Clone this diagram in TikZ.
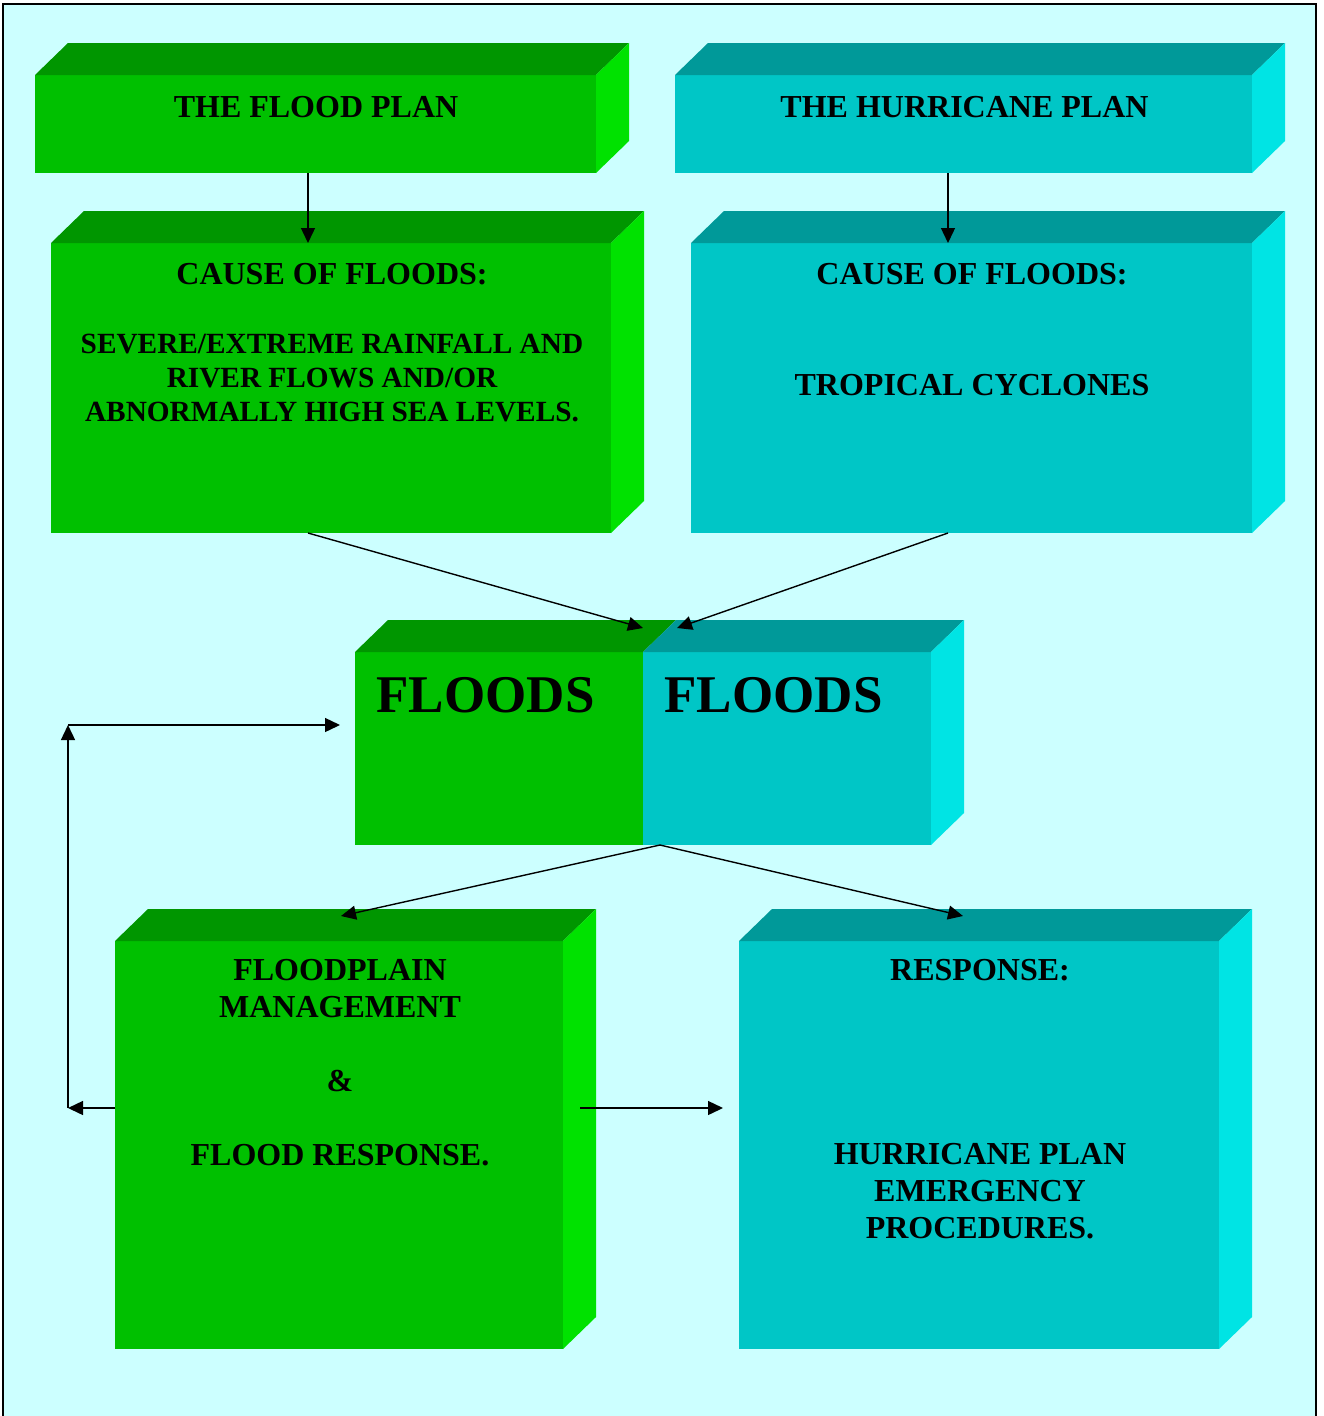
\documentclass[tikz,border=0pt]{standalone}
\usepackage{fontspec}
\setmainfont{Liberation Serif}
\usetikzlibrary{arrows.meta,
                positioning
            }

\definecolor{bgcyan}{RGB}{204,255,255}
\definecolor{greenFront}{RGB}{0,192,0}
\definecolor{greenTop}{RGB}{0,150,0}
\definecolor{greenSide}{RGB}{0,226,0}
\definecolor{cyanFront}{RGB}{0,198,198}
\definecolor{cyanTop}{RGB}{0,153,153}
\definecolor{cyanSide}{RGB}{0,228,228}

% top and side faces of a box, drawn from its front node
\newcommand{\topface}[2]{\fill[#2] (#1.north west) -- ++(33,-32) -- ([shift={(33,-32)}]#1.north east) -- (#1.north east) -- cycle;}
\newcommand{\sideface}[2]{\fill[#2] (#1.north east) -- ++(33,-32) -- ([shift={(33,-32)}]#1.south east) -- (#1.south east) -- cycle;}

\tikzset{
    front/.style={inner sep=0pt, outer sep=0pt},
    txt/.style={anchor=north, inner sep=0pt, align=center, font=\fontsize{32}{37}\selectfont\bfseries},
    arr/.style={-{Triangle[length=15pt,width=14pt]}, line width=1.4pt}
}

\begin{document}
\begin{tikzpicture}[x=1pt, y=-1pt]
            \useasboundingbox (0,0) rectangle (1324,1416);
            \fill[bgcyan] (3,4) rectangle (1316,1416);
            \draw[line width=2pt] (3,1416) -- (3,4) -- (1316,4) -- (1316,1416);

            % front faces
            \node[front, fill=greenFront, minimum width=561, minimum height=98] (planFlood) at (315.5,124) {};
            \node[front, fill=cyanFront, minimum width=577, minimum height=98] (planHurr) at (963.5,124) {};
            \node[front, fill=greenFront, minimum width=560, minimum height=290] (causeFlood) at (331,388) {};
            \node[front, fill=cyanFront, minimum width=561, minimum height=290] (causeHurr) at (971.5,388) {};
            \node[front, fill=greenFront, minimum width=288, minimum height=193] (floodsL) at (499,748.5) {};
            \node[front, fill=cyanFront, minimum width=288, minimum height=193] (floodsR) at (787,748.5) {};
            \node[front, fill=greenFront, minimum width=448, minimum height=408] (mgmt) at (339,1145) {};
            \node[front, fill=cyanFront, minimum width=480, minimum height=408] (response) at (979,1145) {};

            \topface{planFlood}{greenTop}   \sideface{planFlood}{greenSide}
            \topface{planHurr}{cyanTop}     \sideface{planHurr}{cyanSide}
            \topface{causeFlood}{greenTop}  \sideface{causeFlood}{greenSide}
            \topface{causeHurr}{cyanTop}    \sideface{causeHurr}{cyanSide}
            \topface{floodsL}{greenTop}
            \topface{floodsR}{cyanTop}      \sideface{floodsR}{cyanSide}
            \topface{mgmt}{greenTop}        \sideface{mgmt}{greenSide}
            \topface{response}{cyanTop}     \sideface{response}{cyanSide}

            % texts
            \node[txt] (tPlanFlood) at (316,96.5) {THE FLOOD PLAN};
            \node[txt] (tPlanHurr) at (964.5,96.5) {THE HURRICANE PLAN};
            \node[txt] (tCauseFlood) at (332,263.5) {CAUSE OF FLOODS:};
            \node[txt, font=\fontsize{29.3}{34}\selectfont\bfseries] (tRain) at (332,333.5)
                {SEVERE/EXTREME RAINFALL AND\\RIVER FLOWS AND/OR\\ABNORMALLY HIGH SEA LEVELS.};
            \node[txt] (tCauseHurr) at (972,263.5) {CAUSE OF FLOODS:};
            \node[txt] (tCyclones) at (972,374.5) {TROPICAL CYCLONES};
            \node[txt, font=\fontsize{53}{60}\selectfont\bfseries] (tFloodsL) at (485.5,677) {FLOODS};
            \node[txt, font=\fontsize{53}{60}\selectfont\bfseries] (tFloodsR) at (773.5,677) {FLOODS};
            \node[txt] (tMgmt) at (340,959.5) {FLOODPLAIN\\MANAGEMENT\\[37pt]\&\\[37pt]FLOOD RESPONSE.};
            \node[txt] (tResponse) at (980,959.5) {RESPONSE:};
            \node[txt] (tProcedures) at (980,1143.5) {HURRICANE PLAN\\EMERGENCY\\PROCEDURES.};

            % connectors
            \coordinate (hitL) at (643,628);
            \coordinate (hitR) at (677,628);
            \coordinate (hitMgmt) at (341,916);
            \coordinate (hitResp) at (963,916);
            \coordinate (loopB) at (68,1108);
            \coordinate (loopT) at (68,725);

            \draw[arr] ([xshift=-7.5]planFlood.south) -- ([xshift=-7.5]planFlood.south |- causeFlood.north);
            \draw[arr] ([xshift=-15.5]planHurr.south) -- ([xshift=-15.5]planHurr.south |- causeHurr.north);
            \draw[arr] ([xshift=-23]causeFlood.south) -- (hitL);
            \draw[arr] ([xshift=-23.5]causeHurr.south) -- (hitR);
            \draw[arr] ([xshift=17]floodsR.south west) -- (hitMgmt);
            \draw[arr] ([xshift=17]floodsR.south west) -- (hitResp);
            \draw[arr] ([yshift=37]mgmt.west) -- (loopB);
            \draw[arr] (loopB) -- (loopT);
            \draw[arr] (loopT) -- ([xshift=-15]loopT -| floodsL.west);
            \draw[arr] ([xshift=17,yshift=37]mgmt.east) -- ([xshift=-16,yshift=37]response.west);
        \end{tikzpicture}
\end{document}
